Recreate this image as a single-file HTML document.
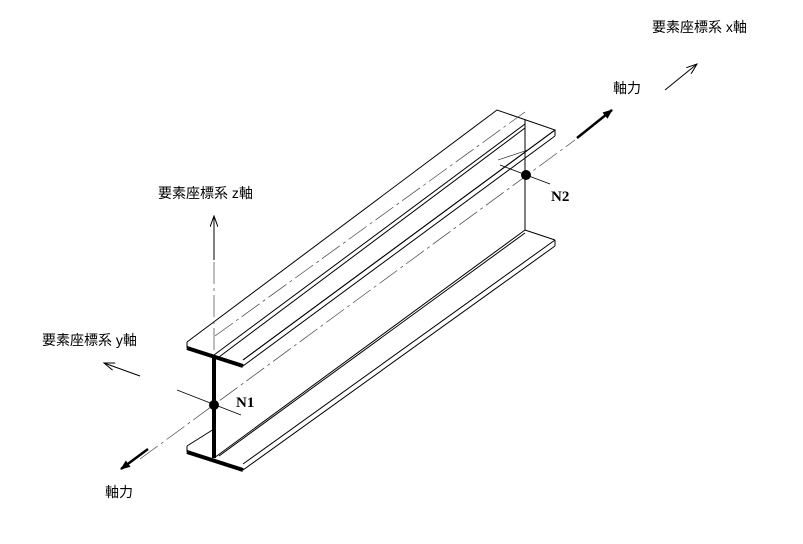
<!DOCTYPE html>
<html><head><meta charset="utf-8"><style>
html,body{margin:0;padding:0;background:#fff;}
svg{display:block}
text{font-family:"Liberation Sans","Noto Sans CJK JP",sans-serif;font-size:14px;fill:#000}
.n{font-family:"Liberation Serif",serif;font-weight:bold;font-size:15px}
</style></head><body>
<svg width="803" height="544" viewBox="0 0 803 544" xmlns="http://www.w3.org/2000/svg">
<defs>
<marker id="a" markerWidth="10" markerHeight="8" refX="9" refY="4" orient="auto" markerUnits="userSpaceOnUse"><path d="M0,0 L10,4 L0,8 Z" fill="#000"/></marker>
<marker id="t" markerWidth="12" markerHeight="8" refX="11" refY="4" orient="auto" markerUnits="userSpaceOnUse"><path d="M0,0 L11,4 L0,8" fill="none" stroke="#000" stroke-width="1"/></marker>
</defs>
<g stroke="#000" fill="none" stroke-width="1">
<path d="M187,342 L497,110 L555,130 L243,360"/>
<line x1="243" y1="360" x2="555" y2="130"/>
<line x1="243" y1="366" x2="555" y2="136"/>
<line x1="555" y1="130" x2="555" y2="136"/>
<line x1="214" y1="355" x2="525" y2="124"/>
<line x1="219" y1="357" x2="525" y2="128"/>
<line x1="525" y1="120" x2="525" y2="230"/>
<path d="M187,446 L214,429"/>
<line x1="214" y1="458" x2="525" y2="230"/>
<line x1="219" y1="456" x2="525" y2="233"/>
<line x1="525" y1="230" x2="555" y2="240"/>
<line x1="243" y1="464" x2="555" y2="240"/>
<line x1="243" y1="470" x2="555" y2="246"/>
<line x1="555" y1="240" x2="555" y2="246"/>
<line x1="187" y1="446" x2="187" y2="452"/>
<line x1="187" y1="342" x2="187" y2="348"/>
<line x1="187" y1="348" x2="243" y2="366" stroke-width="4"/>
<line x1="214" y1="356" x2="214" y2="458" stroke-width="4"/>
<line x1="187" y1="452" x2="243" y2="470" stroke-width="4"/>
<line x1="140" y1="459" x2="575" y2="140" stroke-dasharray="22,4,3,4" stroke-width="0.7" stroke="#444"/>
<line x1="215" y1="336" x2="525" y2="112" stroke-dasharray="22,4,3,4" stroke-width="0.7" stroke="#444"/>
<line x1="214" y1="262" x2="214" y2="352" stroke-dasharray="22,4,3,4" stroke-width="0.7" stroke="#444"/>
<line x1="177" y1="390" x2="241" y2="415" stroke-width="0.8"/>
<line x1="500" y1="165" x2="550" y2="184" stroke-width="0.8"/>
<line x1="498" y1="160" x2="528" y2="150" stroke-width="0.6"/>
<line x1="214" y1="260" x2="214" y2="216" marker-end="url(#t)"/>
<line x1="140" y1="376" x2="104" y2="363" marker-end="url(#t)"/>
<line x1="665" y1="90" x2="697" y2="64" marker-end="url(#t)"/>
<line x1="148" y1="449" x2="121" y2="469" stroke-width="2.5" marker-end="url(#a)"/>
<line x1="577" y1="138" x2="612" y2="110" stroke-width="2.5" marker-end="url(#a)"/>
</g>
<circle cx="214" cy="405" r="5" fill="#000"/>
<circle cx="526" cy="175" r="5" fill="#000"/>
<text class="n" x="236" y="407">N1</text>
<text class="n" x="551" y="201">N2</text>
<text x="652" y="32">要素座標系 x軸</text>
<text x="158" y="198">要素座標系 z軸</text>
<text x="42" y="345">要素座標系 y軸</text>
<text x="613" y="93">軸力</text>
<text x="105" y="497">軸力</text>
</svg>
</body></html>
